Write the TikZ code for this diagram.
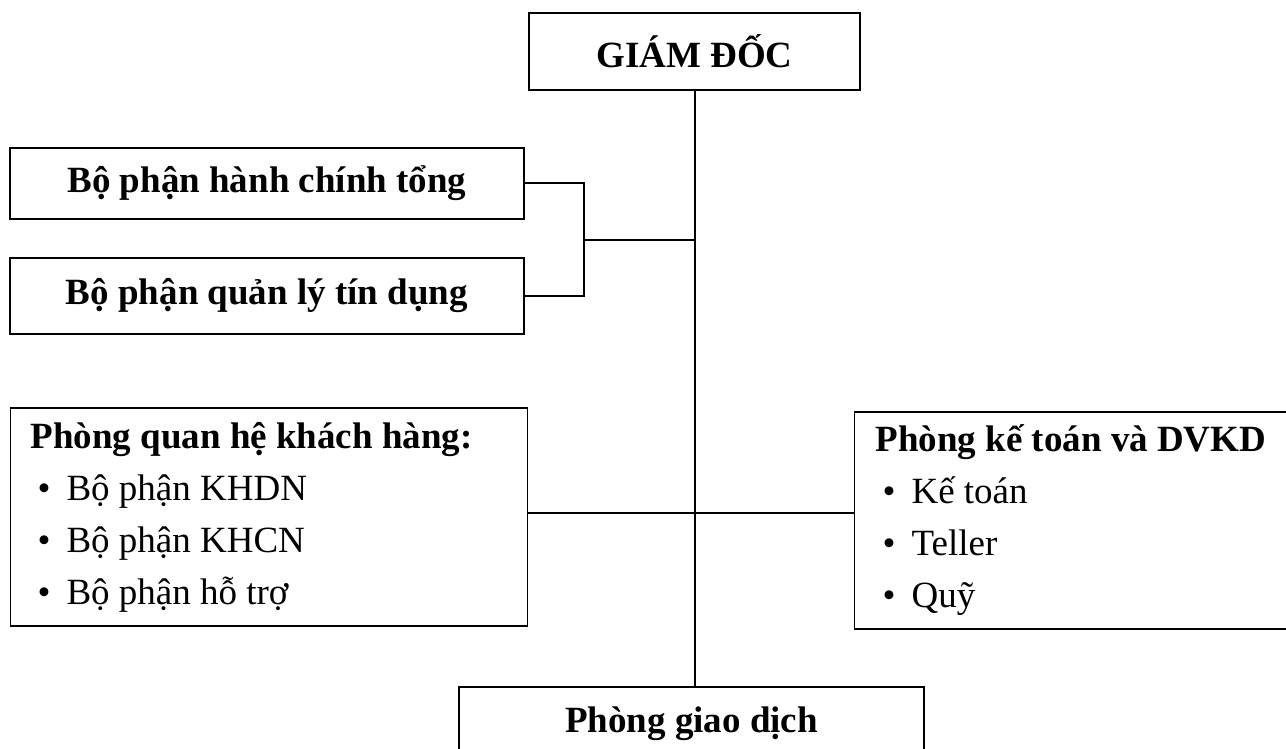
\documentclass[tikz,border=0pt]{standalone}
\usepackage{fontspec}
\setmainfont{Liberation Serif}
\usetikzlibrary{calc}
\newcommand\cochu{\fontsize{37pt}{52pt}\selectfont}
\newcommand\muc[1]{\hspace*{7pt}\textbullet\hspace{16pt}#1}

\begin{document}
\begin{tikzpicture}[x=1pt,y=-1pt]
        \tikzset{khung/.style={draw, line width=1.2pt, inner sep=0pt,
        font=\cochu},
        noi/.style={line width=2pt}}
        \path[use as bounding box, clip] (0,0) rectangle (1286,749);

        \node[khung, minimum width=331pt, minimum height=77pt] (giamdoc) at (694.5,51.5) {\bfseries GIÁM ĐỐC};
        \node[khung, minimum width=514pt, minimum height=71pt] (hc) at (267,183.5) {\bfseries Bộ phận hành chính tổng};
        \node[khung, minimum width=514pt, minimum height=76pt] (ql) at (267,296) {\bfseries Bộ phận quản lý tín dụng};

        \node[khung, anchor=west, inner xsep=20pt, text width=477pt, align=flush left,
        minimum height=218pt] (qhkh) at (10,517)
        {\textbf{Phòng quan hệ khách hàng:}\\ \muc{Bộ phận KHDN}\\ \muc{Bộ phận KHCN}\\ \muc{Bộ phận hỗ trợ}};
        \node[khung, anchor=west, inner xsep=21pt, text width=420pt, align=flush left,
        minimum height=217pt] (kt) at (854,520.5)
        {\textbf{Phòng kế toán và DVKD}\\ \muc{Kế toán}\\ \muc{Teller}\\ \muc{Quỹ}};

        \node[khung, minimum width=465pt, minimum height=73pt] (gd) at (691.5,723.5) {\bfseries Phòng giao dịch};

        \draw[noi] (giamdoc.south) -- (giamdoc.south |- gd.north);
        \draw[noi] (hc.east) -- ++(59,0) |- (ql.east);
        \coordinate (ngoac) at ($(hc.east)!.5!(ql.east)+(59,0)$);
        \draw[noi] (ngoac) -- (ngoac -| giamdoc.south);
        \draw[noi] ([yshift=4pt]qhkh.east) -- ([yshift=4pt]qhkh.east -| kt.west);
    \end{tikzpicture}
\end{document}
